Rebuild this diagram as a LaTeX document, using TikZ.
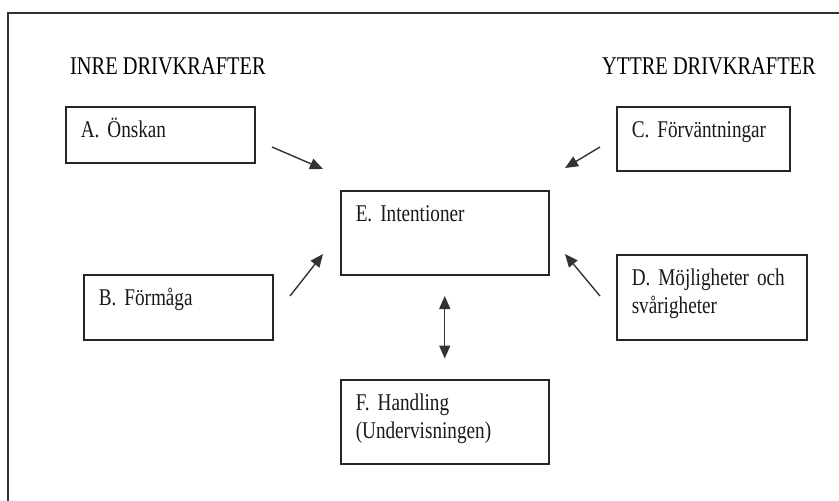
\documentclass[tikz,border=0pt]{standalone}
\usepackage{fontspec}
\setmainfont{Liberation Serif}[FakeStretch=0.8]
\usetikzlibrary{arrows.meta}

\begin{document}
\begin{tikzpicture}[x=1pt, y=-1pt,
  box/.style={draw=black!85, line width=1.5pt, anchor=north west, align=left, inner xsep=15pt, inner ysep=0pt, text height=31pt, font=\fontsize{24}{27.6}\selectfont, text=black!90},
  heading/.style={anchor=base west, inner sep=0pt, font=\fontsize{25.5}{30}\selectfont},
  arrow/.style={->, line width=1.4pt, draw=black!80},
  >={Triangle[length=13pt, width=11pt]}
]
  \useasboundingbox (0,0) rectangle (839,501);
  \draw[line width=2pt, black!80] (8,501) -- (8,13) -- (839,13);

  \node[heading] (inre)  at (70,74)  {INRE DRIVKRAFTER};
  \node[heading] (yttre) at (602,74) {YTTRE DRIVKRAFTER};

  \node[box, text width=159pt, text depth=25pt] (a) at (65,106)  {A. Önskan};
  \node[box, text width=159pt, text depth=34pt] (b) at (83,274)  {B. Förmåga};
  \node[box, text width=143pt, text depth=33pt] (c) at (616,106) {C. Förväntningar};
  \node[box, text width=160pt, text depth=54pt] (d) at (616,254) {D. Möjligheter och\\svårigheter};
  \node[box, text width=178pt, text depth=53pt] (e) at (340,190) {E. Intentioner};
  \node[box, text width=178pt, text depth=53pt] (f) at (340,379) {F. Handling\\(Undervisningen)};

  % free-standing arrows towards E
  \coordinate (a0) at (272,147); \coordinate (a1) at (323,169);
  \coordinate (b0) at (290,296); \coordinate (b1) at (323,254);
  \coordinate (c0) at (600,147); \coordinate (c1) at (565,168);
  \coordinate (d0) at (600,296); \coordinate (d1) at (565,254);
  \foreach \i/\j in {a0/a1,b0/b1,c0/c1,d0/d1} \draw[arrow] (\i) -- (\j);

  \draw[arrow, <->, shorten <=20.5pt, shorten >=20.5pt] (e) -- (f);
\end{tikzpicture}
\end{document}
